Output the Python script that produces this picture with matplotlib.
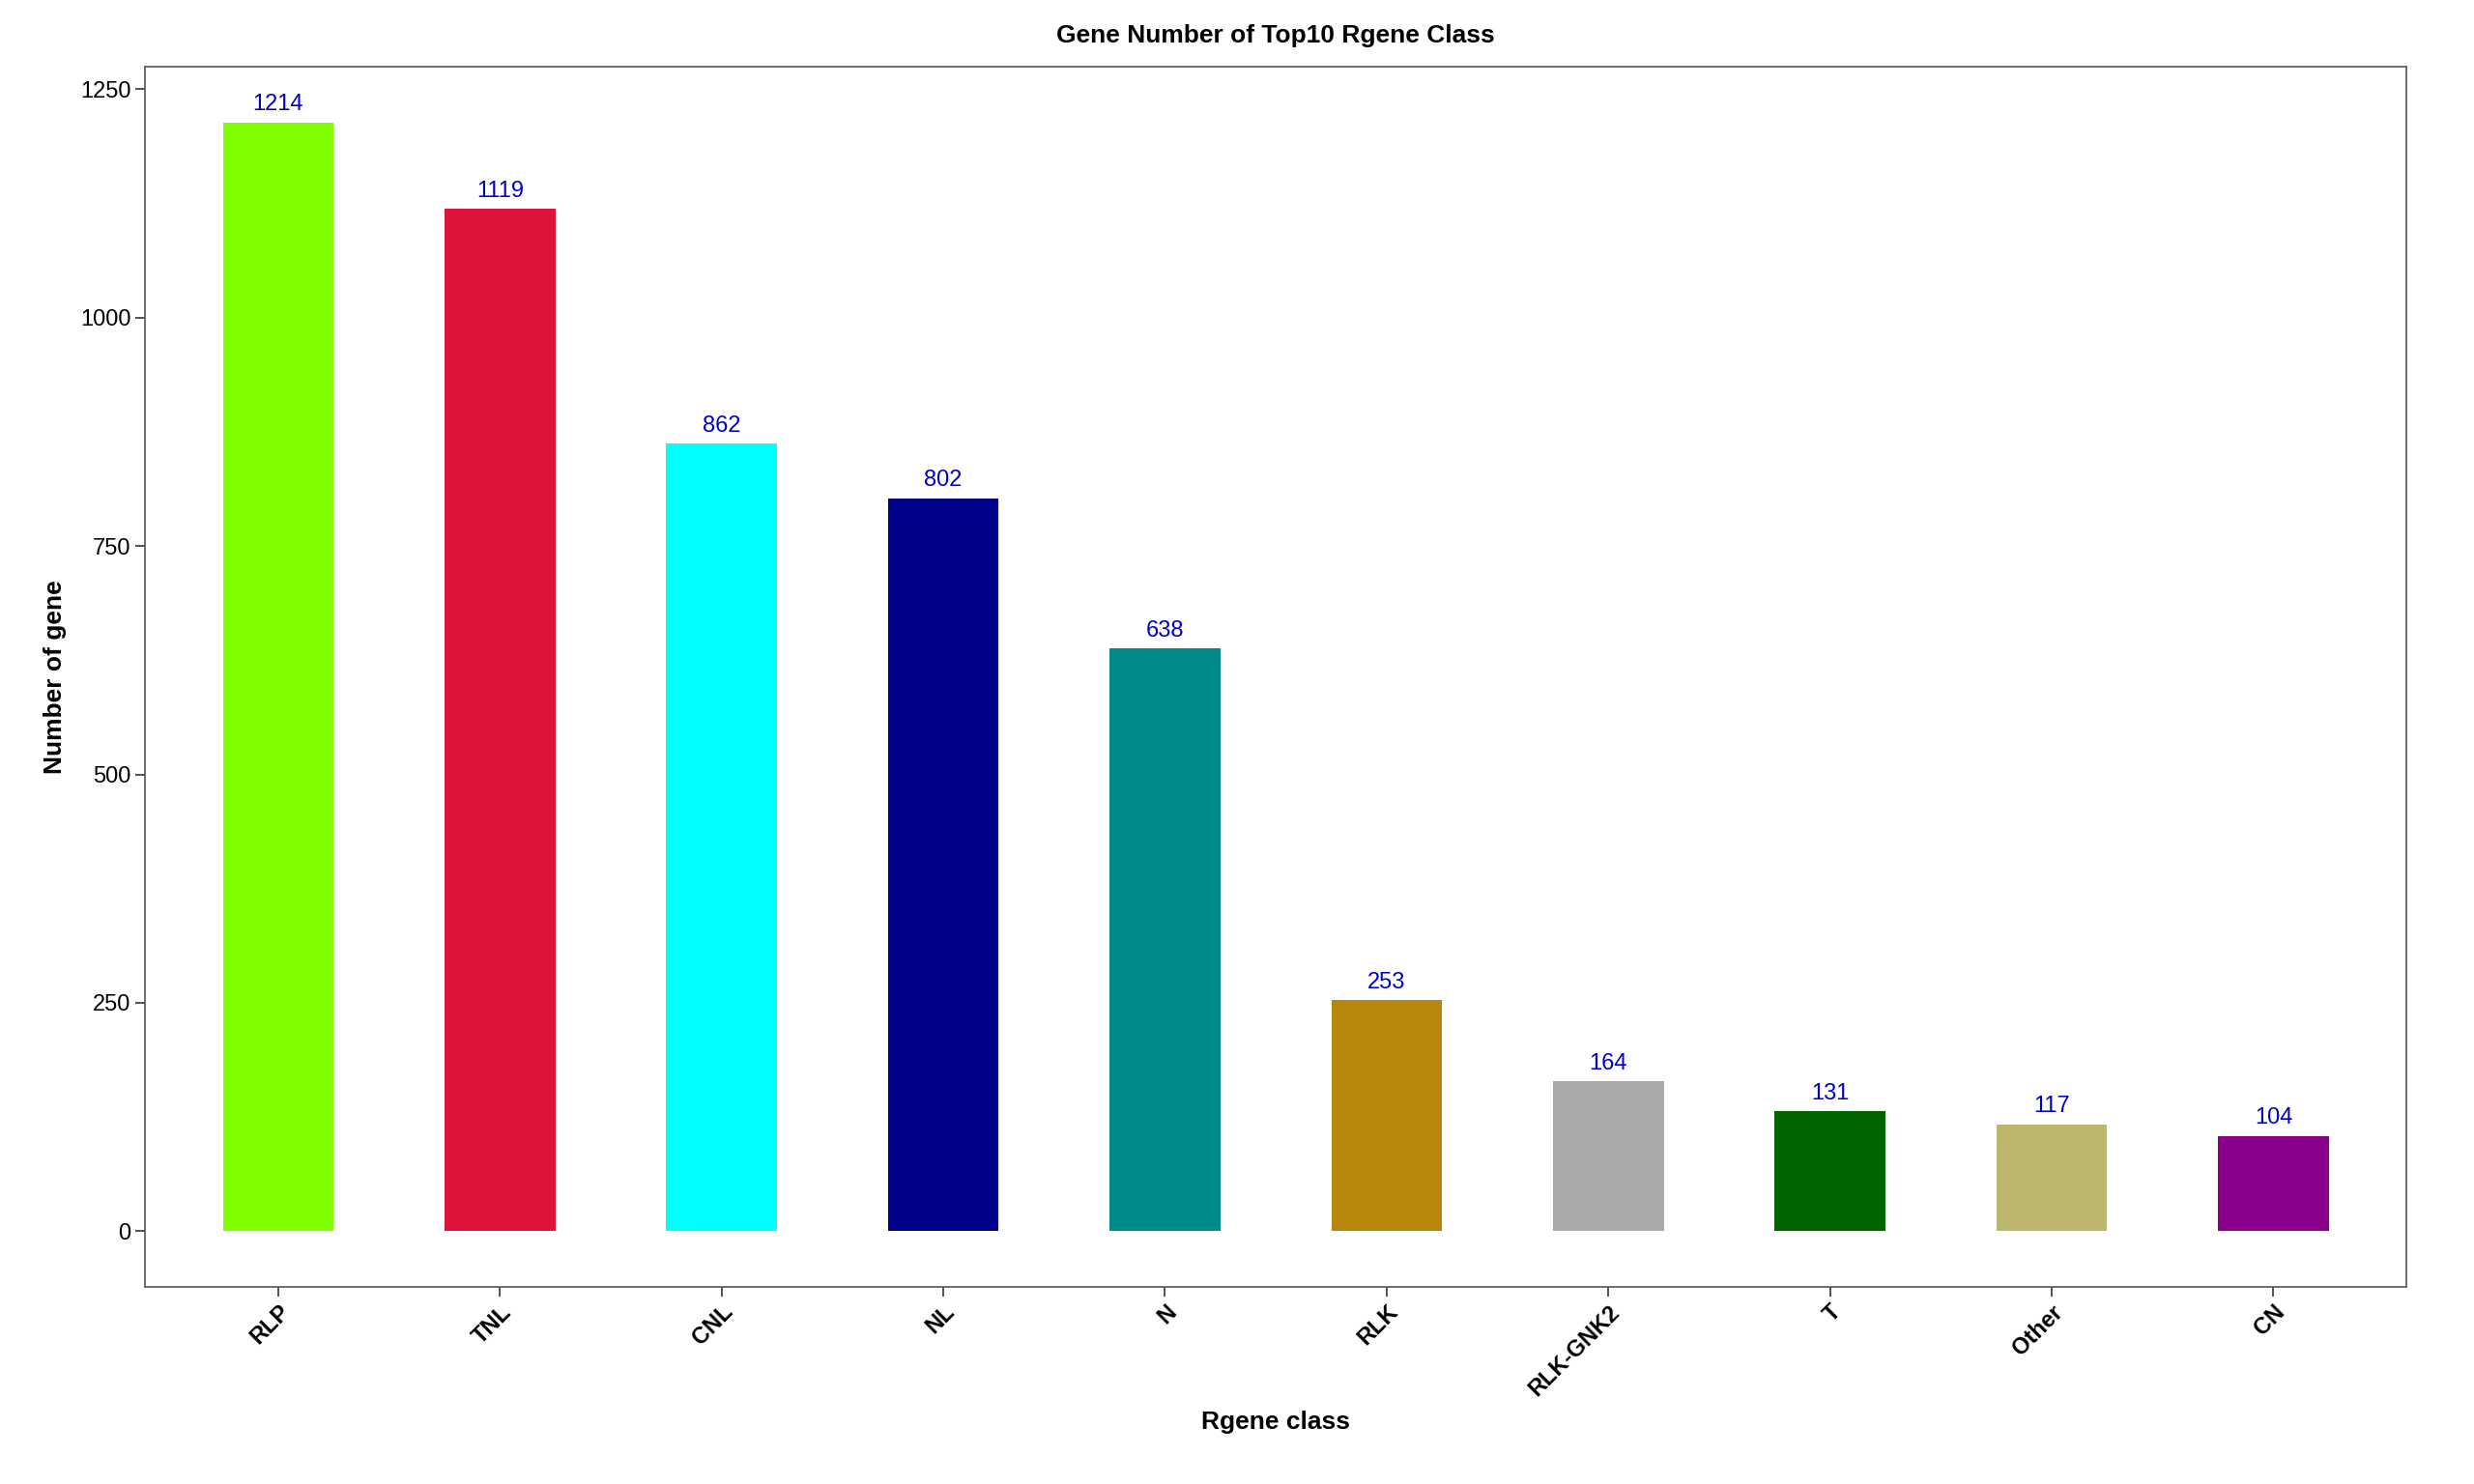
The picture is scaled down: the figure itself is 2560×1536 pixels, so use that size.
import matplotlib
matplotlib.use("Agg")
import matplotlib.pyplot as plt

plt.rcParams['font.family'] = ['Liberation Sans', 'DejaVu Sans']

categories = ["RLP", "TNL", "CNL", "NL", "N", "RLK", "RLK-GNK2", "T", "Other", "CN"]
values = [1214, 1119, 862, 802, 638, 253, 164, 131, 117, 104]
colors = ["#7FFF00", "#DC143C", "#00FFFF", "#00008B", "#008B8B", "#B8860B",
          "#A9A9A9", "#006400", "#BDB76B", "#8B008B"]
yticks = [0, 250, 500, 750, 1000, 1250]

fig = plt.figure(figsize=(25.6, 15.36), dpi=100)
ax = fig.add_axes([0.0587, 0.133, 0.914, 0.822])
x = list(range(1, len(categories) + 1))
ax.bar(x, values, width=0.5, color=colors)
for xi, v in zip(x, values):
    ax.text(xi, v + 8, str(v), ha='center', va='bottom', color='#0000CC', fontsize=17)
ax.set_xlim(0.4, 10.6)
ax.set_ylim(-60.7, 1274.7)
ax.set_xticks(x)
ax.set_xticklabels(categories, rotation=45, ha='right', rotation_mode='anchor',
                   fontsize=17, fontweight='bold')
ax.set_yticks(yticks)
ax.set_yticklabels([str(t) for t in yticks], fontsize=17)
ax.tick_params(length=7, width=1.2, color='#333333')
for s in ax.spines.values():
    s.set_color('#555555'); s.set_linewidth(1.2)
ax.set_xlabel("Rgene class", fontsize=19, fontweight='bold', labelpad=8)
ax.set_ylabel("Number of gene", fontsize=19, fontweight='bold', labelpad=10)
ax.set_title("Gene Number of Top10 Rgene Class", fontsize=19, fontweight='bold', pad=18)
fig.savefig("out.png", dpi=100)
